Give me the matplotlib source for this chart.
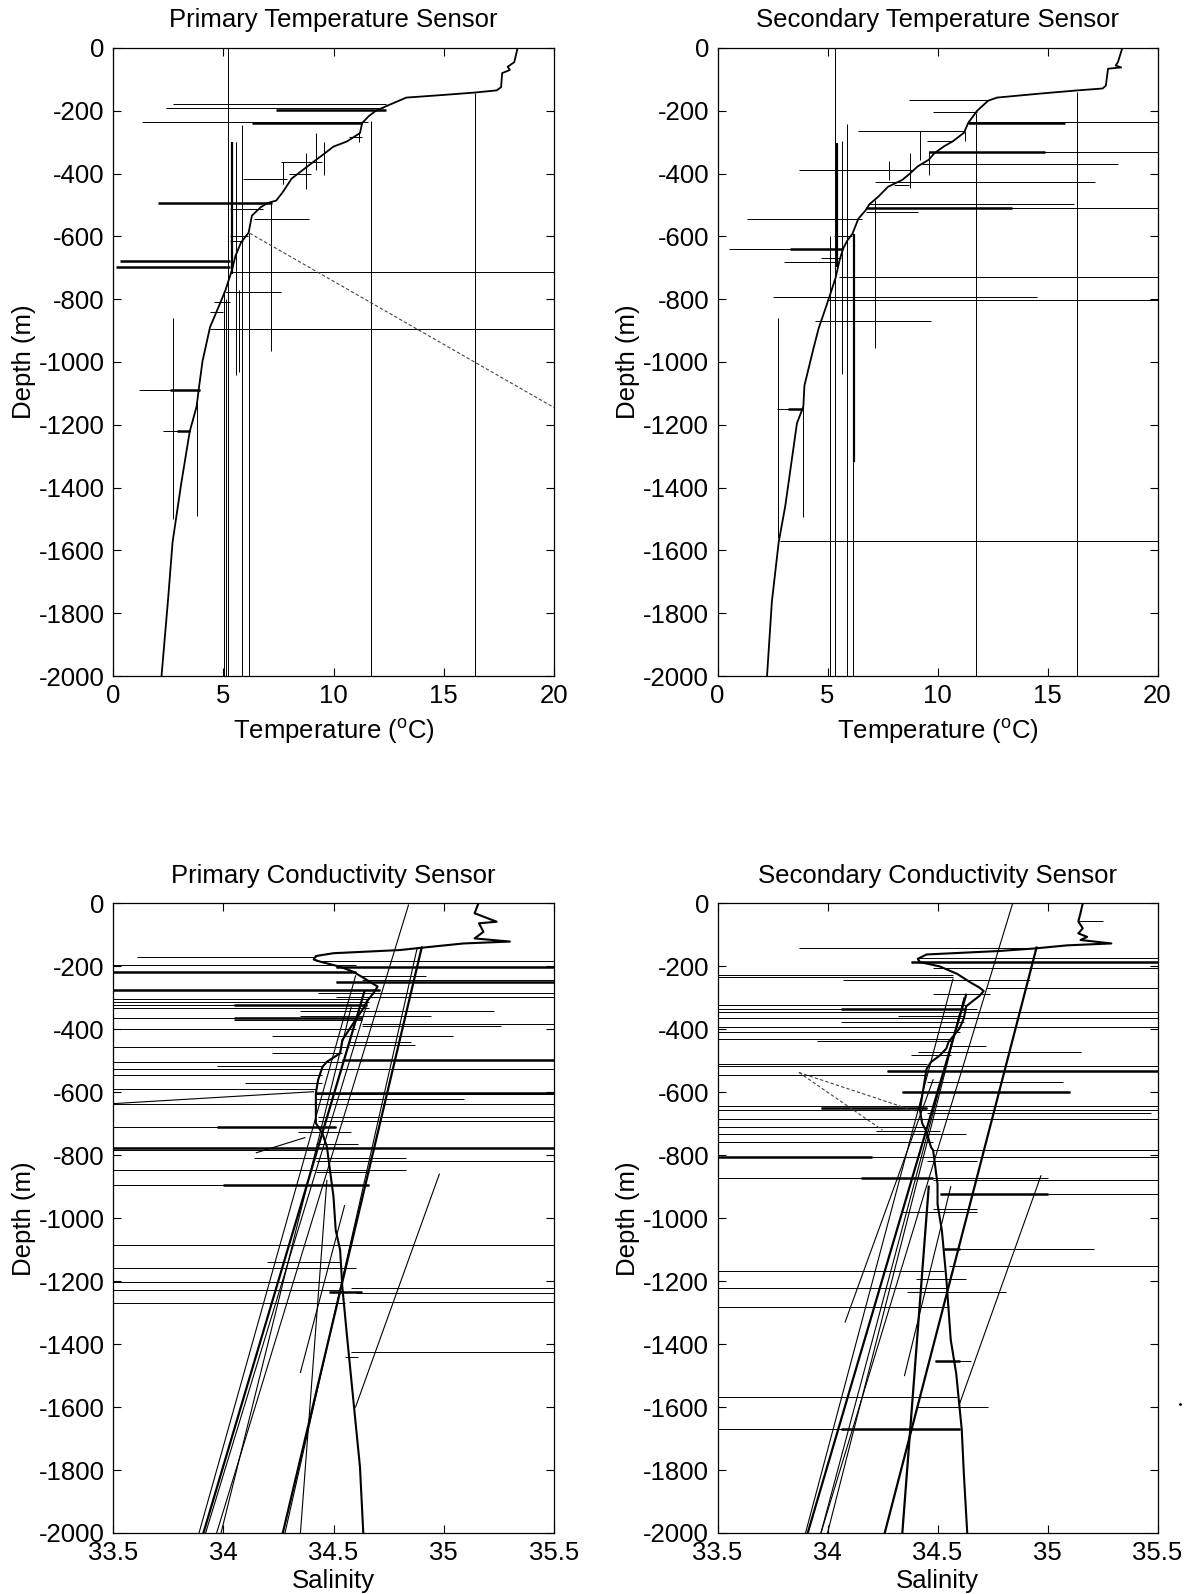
import matplotlib
matplotlib.use("Agg")
import matplotlib.pyplot as plt

plt.rcParams['font.family'] = ['Liberation Sans', 'DejaVu Sans']
plt.rcParams['mathtext.fontset'] = 'custom'
plt.rcParams['mathtext.rm'] = 'Liberation Sans'
plt.rcParams['axes.unicode_minus'] = False

# ---- axis ticks ----
depth_ticks = [0, -200, -400, -600, -800, -1000, -1200, -1400, -1600, -1800, -2000]
temp_ticks = [0, 5, 10, 15, 20]
sal_ticks = [33.5, 34, 34.5, 35, 35.5]
sal_tick_labels = ["33.5", "34", "34.5", "35", "35.5"]

# ---- Primary temperature sensor ----
pt_depth = [0, -45, -60, -70, -80, -125, -135, -142, -150, -158, -185, -201, -217, -239, -271,
            -298, -314, -341, -362, -389, -416, -459, -486, -494, -507, -534, -588, -620, -663,
            -706, -728, -771, -814, -889, -997, -1080, -1142, -1221, -1384, -1574, -1753, -2000]
pt_temp = [18.35, 18.2, 17.9, 18.0, 17.65, 17.6, 17.4, 16.4, 14.9, 13.3, 12.4, 11.9, 11.6, 11.3, 11.2,
           10.6, 10.0, 9.5, 9.1, 8.6, 8.1, 7.7, 7.4, 7.0, 6.7, 6.3, 6.15, 5.8, 5.55,
           5.4, 5.3, 5.1, 4.85, 4.4, 4.06, 3.9, 3.79, 3.48, 3.1, 2.7, 2.5, 2.2]
# horizontal spikes: (depth, from, to)
pt_h_thin = [(-177, 2.7, 12.4), (-192, 2.4, 12.25), (-235, 1.3, 11.55), (-282, 10.7, 11.3),
             (-362, 7.6, 9.5), (-400, 8.0, 9.0), (-416, 5.9, 7.9), (-513, 5.3, 6.8),
             (-545, 6.4, 8.9), (-599, 5.3, 6.1), (-615, 5.3, 5.9), (-712, 5.3, 20),
             (-778, 5.1, 7.6), (-808, 4.6, 5.3), (-841, 4.4, 5.0), (-895, 4.4, 20),
             (-1089, 1.2, 3.94), (-1221, 2.27, 3.48)]
pt_h_thick = [(-196, 7.4, 12.4), (-240, 6.3, 11.3), (-495, 2.05, 7.2), (-677, 0.3, 5.3),
              (-698, 0.15, 5.3), (-1089, 2.6, 3.94), (-1221, 2.9, 3.48)]
# vertical spikes: (temperature, top, bottom)
pt_v_thin = [(5.22, 0, -2000), (5.05, -780, -2000), (5.12, -800, -2000), (5.6, -300, -1040),
             (5.7, -770, -1032), (5.84, -244, -2000), (6.17, -588, -2000), (7.15, -491, -965),
             (11.69, -233, -2000), (16.4, -142, -2000), (2.7, -860, -1500), (3.8, -1130, -1490),
             (9.2, -271, -389), (9.58, -298, -405), (8.76, -335, -448), (7.7, -362, -432),
             (11.17, -271, -298)]
pt_v_thick = [(5.38, -300, -720)]
pt_dashed = [((6.2, -590), (20, -1145))]

# ---- Secondary temperature sensor ----
st_depth = [0, -45, -56, -62, -66, -120, -129, -136, -145, -158, -168, -200, -238, -270, -297,
            -313, -335, -356, -377, -399, -420, -442, -474, -498, -517, -544, -592, -613, -640,
            -678, -731, -785, -839, -892, -957, -1075, -1142, -1195, -1458, -1574, -1763, -2000]
st_temp = [18.4, 18.2, 18.1, 18.35, 17.75, 17.65, 17.5, 16.2, 14.7, 12.7, 12.3, 11.8, 11.4, 11.2, 10.7,
           10.3, 9.86, 9.6, 9.1, 8.76, 8.4, 7.75, 7.3, 6.9, 6.73, 6.4, 6.13, 5.9, 5.7,
           5.54, 5.37, 5.12, 4.86, 4.6, 4.36, 3.95, 3.9, 3.61, 3.08, 2.78, 2.47, 2.25]
st_h_thin = [(-166, 8.7, 12.3), (-204, 9.8, 11.8), (-236, 11.4, 20), (-265, 6.4, 11.2),
             (-297, 9.5, 10.7), (-332, 9.6, 20), (-370, 9.3, 18.2), (-389, 3.7, 8.9),
             (-427, 7.15, 17.15), (-435, 8.0, 8.7), (-498, 6.9, 16.2), (-511, 6.73, 20),
             (-522, 6.73, 9.1), (-544, 1.36, 6.56), (-600, 5.3, 6.1), (-640, 0.54, 5.7),
             (-670, 4.7, 5.6), (-680, 3.0, 5.45), (-729, 5.5, 20), (-792, 2.54, 14.5),
             (-803, 5.0, 20), (-870, 4.44, 9.7), (-1150, 2.7, 3.9), (-1570, 2.85, 20)]
st_h_thick = [(-238, 11.4, 15.8), (-332, 9.6, 14.9), (-511, 6.73, 13.4), (-640, 3.3, 5.7),
              (-1150, 3.2, 3.9)]
st_v_thin = [(5.34, 0, -2000), (5.1, -600, -2000), (5.68, -297, -1037), (5.88, -243, -2000),
             (6.18, -592, -2000), (7.15, -485, -957), (11.77, -206, -2000), (16.35, -141, -2000),
             (9.2, -265, -356), (9.6, -329, -404), (8.76, -335, -447), (7.8, -361, -420),
             (11.27, -265, -297), (2.75, -860, -1560), (3.87, -1130, -1495)]
st_v_thick = [(5.42, -302, -699), (6.2, -592, -1320)]

# ---- Primary conductivity sensor (salinity) ----
pc_depth = [0, -31, -58, -63, -90, -111, -121, -127, -137, -148, -153, -158, -167, -178, -185,
            -201, -217, -238, -264, -286, -312, -328, -370, -402, -434, -476, -503, -519, -561,
            -603, -656, -698, -731, -773, -826, -879, -932, -1038, -1101, -1218, -1366, -1578,
            -1790, -2000]
pc_sal = [35.157, 35.14, 35.24, 35.16, 35.18, 35.14, 35.3, 35.09, 34.95, 34.8, 34.65, 34.5, 34.42,
          34.41, 34.44, 34.53, 34.59, 34.64, 34.7, 34.68, 34.65, 34.64, 34.6, 34.57, 34.54, 34.53,
          34.47, 34.45, 34.43, 34.42, 34.42, 34.42, 34.45, 34.47, 34.48, 34.49, 34.5, 34.51, 34.53,
          34.54, 34.56, 34.59, 34.62, 34.635]
pc_h_thin = [(-169, 33.61, 34.42), (-183, 34.42, 35.5), (-196, 33.5, 34.6), (-203, 34.51, 35.5),
             (-218, 33.5, 34.6), (-232, 34.63, 34.92), (-242, 34.63, 35.5), (-248, 34.51, 35.5),
             (-276, 33.5, 34.71), (-286, 34.43, 35.5), (-296, 34.51, 35.5), (-304, 33.5, 34.66),
             (-313, 33.5, 34.66), (-323, 33.5, 34.65), (-332, 33.5, 34.66), (-343, 34.35, 35.23),
             (-356, 34.35, 34.94), (-364, 33.5, 34.63), (-370, 34.05, 34.63), (-383, 34.63, 35.5),
             (-390, 34.63, 35.26), (-399, 33.5, 34.6), (-420, 34.22, 35.04), (-440, 34.57, 34.85),
             (-449, 34.57, 34.87), (-456, 33.5, 34.57), (-476, 34.22, 34.54), (-496, 34.54, 35.5),
             (-504, 33.5, 34.54), (-517, 33.97, 34.45), (-526, 33.5, 35.5), (-546, 33.5, 34.45),
             (-571, 34.1, 34.45), (-589, 33.5, 34.42), (-601, 34.42, 35.5), (-606, 34.42, 35.5),
             (-620, 34.42, 35.09), (-638, 33.5, 35.5), (-679, 34.43, 35.5), (-692, 34.43, 35.5),
             (-711, 33.5, 34.51), (-727, 34.34, 34.58), (-763, 34.42, 34.61), (-776, 33.5, 35.5),
             (-784, 33.5, 34.42), (-810, 34.14, 34.83), (-817, 34.42, 35.5), (-846, 33.5, 34.83),
             (-852, 34.42, 34.66), (-894, 33.5, 34.66), (-1084, 33.5, 35.5), (-1140, 34.2, 34.53),
             (-1159, 33.5, 34.6), (-1203, 33.5, 34.54), (-1221, 34.58, 35.5), (-1228, 33.5, 34.53),
             (-1237, 34.6, 35.5), (-1266, 34.57, 35.5), (-1269, 33.5, 34.55), (-1426, 34.58, 35.5),
             (-1442, 34.55, 34.61)]
pc_h_thick = [(-203, 34.51, 35.5), (-218, 33.5, 34.6), (-248, 34.51, 35.5), (-276, 33.5, 34.71),
              (-323, 34.05, 34.65), (-364, 34.05, 34.63), (-496, 34.54, 35.5), (-601, 34.42, 35.5),
              (-711, 33.97, 34.51), (-776, 33.5, 35.5), (-894, 34.0, 34.66), (-1235, 34.48, 34.63)]
# straight segments: ((salinity, depth), (salinity, depth))
pc_lines_thin = [((34.84, -5), (33.97, -2000)), ((34.60, -230), (33.89, -2000)),
                 ((34.66, -300), (33.92, -2000)), ((34.58, -330), (33.99, -2000)),
                 ((34.88, -140), (34.28, -2000)), ((34.47, -880), (34.35, -2000)),
                 ((34.55, -960), (34.35, -1490)), ((34.98, -860), (34.6, -1600)),
                 ((33.5, -636), (34.41, -598)), ((34.15, -792), (34.37, -744))]
pc_lines_thick = [((34.64, -280), (33.91, -2000)), ((34.90, -140), (34.27, -2000))]

# ---- Secondary conductivity sensor (salinity) ----
sc_depth = [0, -30, -57, -79, -95, -106, -116, -127, -133, -143, -151, -157, -162, -176, -186,
            -200, -224, -251, -267, -278, -294, -310, -327, -364, -397, -440, -461, -483, -504,
            -526, -569, -612, -655, -698, -725, -774, -784, -838, -892, -955, -1041, -1192,
            -1386, -1494, -1601, -1671, -1817, -2000]
sc_sal = [35.16, 35.15, 35.14, 35.16, 35.14, 35.18, 35.15, 35.29, 35.09, 34.94, 34.78, 34.6, 34.45,
          34.41, 34.42, 34.51, 34.59, 34.65, 34.69, 34.71, 34.69, 34.66, 34.63, 34.62, 34.6, 34.55,
          34.54, 34.51, 34.47, 34.45, 34.44, 34.43, 34.42, 34.43, 34.45, 34.47, 34.48, 34.49, 34.5,
          34.5, 34.52, 34.54, 34.56, 34.585, 34.6, 34.61, 34.62, 34.635]
sc_h_thin = [(-57, 35.14, 35.25), (-141, 33.87, 34.94), (-172, 34.41, 35.5), (-186, 34.38, 35.5),
             (-205, 34.48, 35.5), (-226, 33.5, 34.57), (-235, 33.5, 34.57), (-242, 34.07, 34.92),
             (-269, 34.72, 35.5), (-289, 34.48, 34.74), (-321, 33.5, 34.63), (-334, 33.5, 34.68),
             (-345, 33.5, 35.5), (-357, 34.32, 34.62), (-364, 33.5, 35.5), (-375, 34.06, 34.62),
             (-391, 33.5, 35.5), (-409, 33.5, 34.6), (-429, 33.5, 34.56), (-437, 33.95, 34.56),
             (-453, 34.56, 34.72), (-472, 34.41, 35.15), (-481, 34.38, 34.56), (-510, 33.5, 34.45),
             (-515, 33.5, 35.5), (-531, 34.27, 35.5), (-545, 33.5, 34.45), (-566, 34.45, 35.07),
             (-599, 34.34, 35.1), (-642, 33.5, 35.5), (-651, 33.97, 34.45), (-657, 33.5, 35.5),
             (-666, 34.45, 35.47), (-685, 33.5, 35.5), (-709, 33.5, 34.45), (-722, 34.22, 34.51),
             (-733, 33.5, 34.63), (-758, 33.5, 34.48), (-782, 34.48, 35.5), (-804, 33.5, 35.5),
             (-817, 34.45, 34.68), (-871, 33.5, 35.0), (-879, 34.48, 35.5), (-922, 34.51, 35.5),
             (-970, 34.48, 34.68), (-981, 34.34, 34.68), (-1098, 34.53, 35.21), (-1152, 34.55, 35.5),
             (-1168, 33.5, 34.53), (-1194, 34.4, 34.63), (-1222, 33.5, 34.54), (-1235, 34.36, 34.81),
             (-1283, 33.5, 34.55), (-1453, 34.49, 34.65), (-1567, 33.5, 34.59), (-1599, 34.4, 34.73),
             (-1671, 33.5, 34.6)]
sc_h_thick = [(-186, 34.38, 35.5), (-334, 34.06, 34.63), (-531, 34.27, 35.5), (-599, 34.34, 35.1),
              (-651, 33.97, 34.45), (-804, 33.5, 34.2), (-871, 34.15, 34.48), (-922, 34.51, 35.0),
              (-1098, 34.53, 34.6), (-1453, 34.49, 34.6), (-1671, 34.06, 34.6)]
sc_lines_thin = [((34.84, -3), (33.97, -2000)), ((34.57, -240), (33.9, -2000)),
                 ((34.62, -300), (34.0, -2000)), ((34.60, -350), (33.97, -2000)),
                 ((34.48, -560), (34.08, -1330)), ((34.56, -900), (34.35, -1500)),
                 ((34.97, -865), (34.6, -1590))]
sc_lines_thick = [((34.63, -290), (33.91, -2000)), ((34.95, -140), (34.26, -2000)),
                  ((34.46, -900), (34.34, -2000))]
sc_dashed = [((33.87, -537), (34.4, -660)), ((33.87, -537), (34.25, -720))]
sc_stray = [(35.6, -1590)]


def draw_spikes(ax, h_thin, h_thick, v_thin=(), v_thick=()):
    for segs, lw in ((h_thin, 0.7), (h_thick, 1.8)):
        if segs:
            ax.hlines([s[0] for s in segs], [s[1] for s in segs], [s[2] for s in segs],
                      colors='black', linewidth=lw)
    for segs, lw in ((v_thin, 0.7), (v_thick, 1.6)):
        if segs:
            ax.vlines([s[0] for s in segs], [s[1] for s in segs], [s[2] for s in segs],
                      colors='black', linewidth=lw)


def draw_lines(ax, lines, lw, ls='-', color='black'):
    for (x0, y0), (x1, y1) in lines:
        ax.plot([x0, x1], [y0, y1], color=color, linewidth=lw, linestyle=ls)


def style_axes(ax, title, xlabel, xlim, xticks, xticklabels=None, xlabelpad=3):
    ax.set_xlim(*xlim)
    ax.set_ylim(-2000, 0)
    ax.set_xticks(xticks)
    if xticklabels:
        ax.set_xticklabels(xticklabels)
    ax.set_yticks(depth_ticks)
    ax.set_title(title, fontsize=18.5, pad=15)
    ax.set_xlabel(xlabel, fontsize=18.5, labelpad=xlabelpad)
    ax.set_ylabel("Depth (m)", fontsize=18.5, labelpad=2)
    ax.tick_params(direction='in', length=6, width=0.8, top=True, right=True,
                   labelsize=18.5, pad=6)
    for sp in ax.spines.values():
        sp.set_linewidth(0.9)


fig = plt.figure(figsize=(11.86, 15.94), dpi=100)
ax1 = fig.add_axes([0.0953, 0.5759, 0.3718, 0.3940])
ax2 = fig.add_axes([0.6050, 0.5759, 0.3710, 0.3940])
ax3 = fig.add_axes([0.0953, 0.0383, 0.3718, 0.3949])
ax4 = fig.add_axes([0.6050, 0.0383, 0.3710, 0.3949])

temp_label = r"Temperature ($\mathrm{^{o}}$C)"

# Primary temperature
draw_spikes(ax1, pt_h_thin, pt_h_thick, pt_v_thin, pt_v_thick)
draw_lines(ax1, pt_dashed, 0.8, ls=(0, (3, 2)), color='#444444')
ax1.plot(pt_temp, pt_depth, color='black', linewidth=1.3)
style_axes(ax1, "Primary Temperature Sensor", temp_label, (0, 20), temp_ticks, xlabelpad=6)

# Secondary temperature
draw_spikes(ax2, st_h_thin, st_h_thick, st_v_thin, st_v_thick)
ax2.plot(st_temp, st_depth, color='black', linewidth=1.3)
style_axes(ax2, "Secondary Temperature Sensor", temp_label, (0, 20), temp_ticks, xlabelpad=6)

# Primary conductivity
draw_spikes(ax3, pc_h_thin, pc_h_thick)
draw_lines(ax3, pc_lines_thin, 0.8)
draw_lines(ax3, pc_lines_thick, 1.6)
ax3.plot(pc_sal, pc_depth, color='black', linewidth=1.5)
style_axes(ax3, "Primary Conductivity Sensor", "Salinity", (33.5, 35.5), sal_ticks, sal_tick_labels)

# Secondary conductivity
draw_spikes(ax4, sc_h_thin, sc_h_thick)
draw_lines(ax4, sc_lines_thin, 0.8)
draw_lines(ax4, sc_lines_thick, 1.6)
draw_lines(ax4, sc_dashed, 0.8, ls=(0, (3, 2)), color='#444444')
ax4.plot(sc_sal, sc_depth, color='black', linewidth=1.5)
ax4.plot([p[0] for p in sc_stray], [p[1] for p in sc_stray], 'k.', markersize=2, clip_on=False)
style_axes(ax4, "Secondary Conductivity Sensor", "Salinity", (33.5, 35.5), sal_ticks, sal_tick_labels)

fig.savefig("out.png", dpi=100)
